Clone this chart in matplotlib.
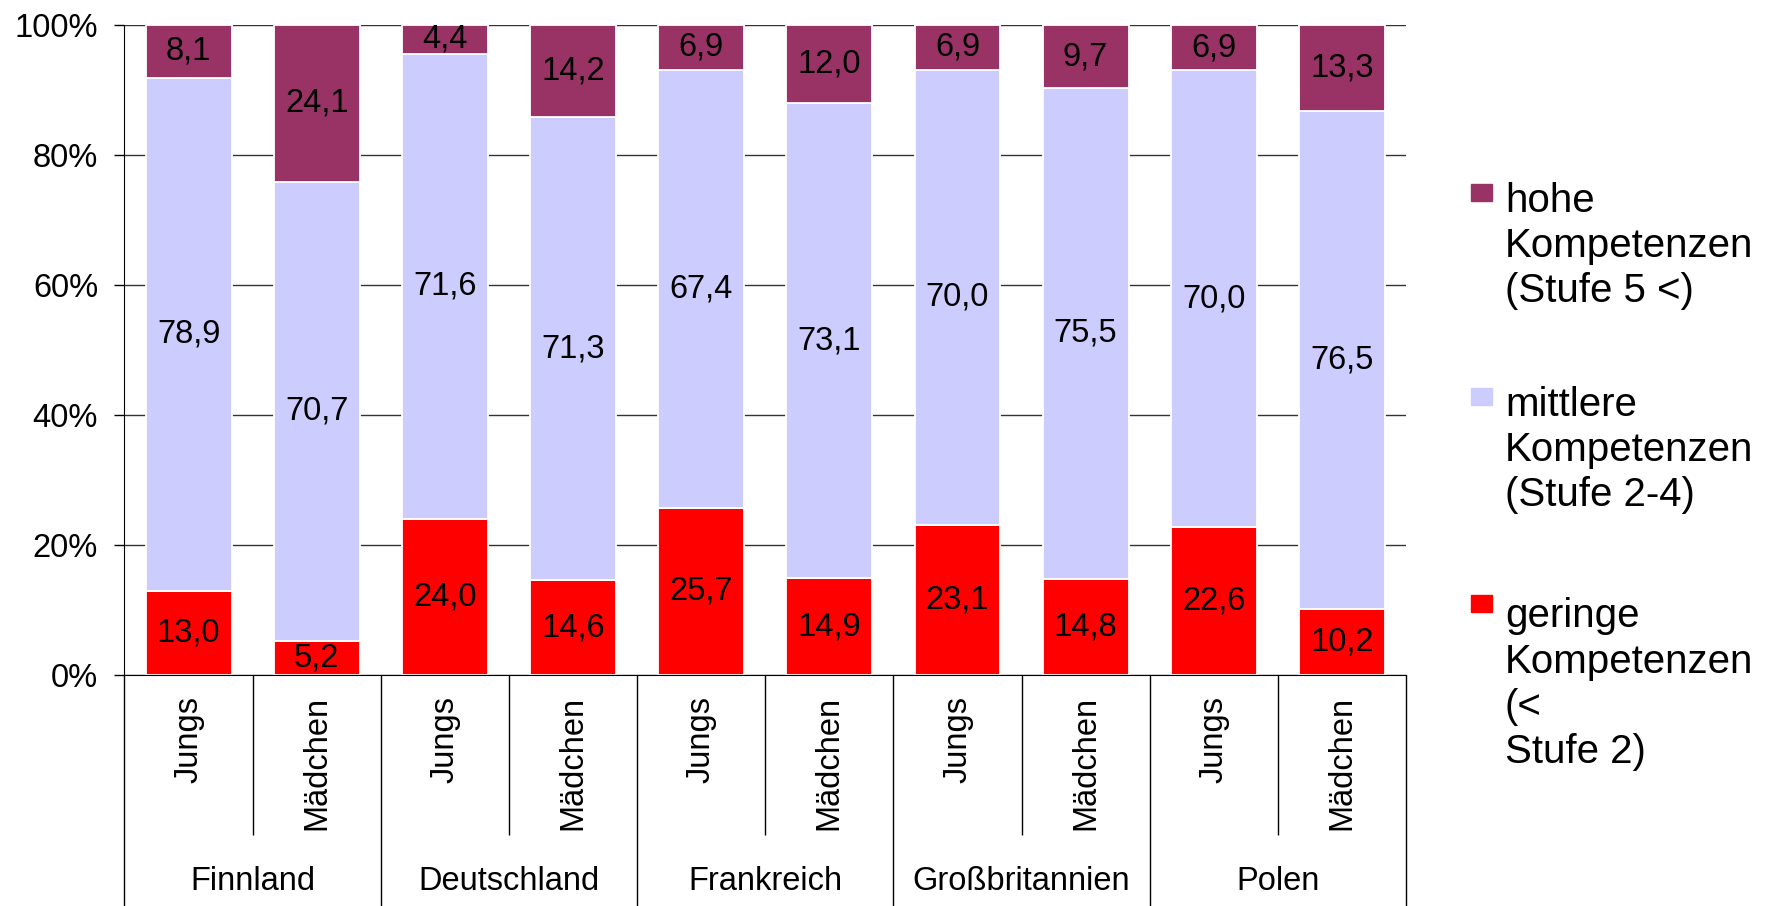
import matplotlib
matplotlib.use("Agg")
import matplotlib.pyplot as plt
import matplotlib.transforms as mtransforms
from matplotlib.patches import Rectangle
import numpy as np

plt.rcParams['font.family'] = ['Liberation Sans', 'DejaVu Sans']

countries = ["Finnland", "Deutschland", "Frankreich", "Großbritannien", "Polen"]
genders = ["Jungs", "Mädchen"]
geringe = [13.0, 5.2, 24.0, 14.6, 25.7, 14.9, 23.1, 14.8, 22.6, 10.2]
mittlere = [78.9, 70.7, 71.6, 71.3, 67.4, 73.1, 70.0, 75.5, 70.0, 76.5]
hohe = [8.1, 24.1, 4.4, 14.2, 6.9, 12.0, 6.9, 9.7, 6.9, 13.3]
series_names = ["geringe\nKompetenzen\n(<\nStufe 2)",
                "mittlere\nKompetenzen\n(Stufe 2-4)",
                "hohe\nKompetenzen\n(Stufe 5 <)"]
colors = ["#FF0000", "#CCCCFF", "#993366"]
yticks = [0, 20, 40, 60, 80, 100]
ytick_labels = ["0%", "20%", "40%", "60%", "80%", "100%"]

FS = 23.5
LFS = 29
W, H = 1774, 906
fig = plt.figure(figsize=(W / 100, H / 100), dpi=100)
ax = fig.add_axes([124.5 / W, 1 - 675 / H, (1406 - 124.5) / W, 650 / H])

raw = np.array([geringe, mittlere, hohe])
totals = raw.sum(axis=0)
pct = raw / totals * 100
n = raw.shape[1]
x = np.arange(n)
bottom = np.zeros(n)
for i in range(3):
    bars = ax.bar(x, pct[i], 0.67, bottom=bottom, color=colors[i],
                  edgecolor="white", linewidth=1.3, zorder=2)
    labels = [f"{v:.1f}".replace(".", ",") for v in raw[i]]
    ax.bar_label(bars, labels=labels, label_type="center", fontsize=FS, color="black")
    bottom += pct[i]

ax.set_xlim(-0.5, n - 0.5)
ax.set_ylim(0, 100)
ax.set_yticks(yticks)
ax.set_yticklabels(ytick_labels, fontsize=FS)
ax.tick_params(axis="y", direction="out", length=7, width=1, pad=12, color="black")
ax.yaxis.grid(True, color="#333333", linewidth=1)
ax.set_axisbelow(True)
for s in ["top", "right"]:
    ax.spines[s].set_visible(False)
ax.spines["left"].set_color("black")
ax.spines["bottom"].set_color("black")

sub_labels = [g for _ in countries for g in genders]
ax.set_xticks(x)
ax.set_xticklabels(sub_labels, rotation=90, fontsize=FS, va="top", ha="center")
ax.tick_params(axis="x", length=0, pad=15)

trans = mtransforms.blended_transform_factory(ax.transData, ax.transAxes)
ng = len(genders)
inner = [c * ng + k + 0.5 for c in range(len(countries)) for k in range(ng - 1)]
outer = [c * ng - 0.5 for c in range(len(countries) + 1)]
ax.vlines(inner, 0, -160 / 650, transform=trans, colors="black", linewidth=1, clip_on=False)
ax.vlines(outer, 0, -240 / 650, transform=trans, colors="black", linewidth=1, clip_on=False)
for c, name in enumerate(countries):
    ax.text(c * ng + (ng - 1) / 2, -(882 - 675) / 650, name, transform=trans,
            ha="center", va="center", fontsize=FS)

# legend (manual, handles aligned to first line)
LINE = 50.0
leg_entries = [(2, 202), (1, 406), (0, 613)]
for idx, base in leg_entries:
    nlines = series_names[idx].count("\n") + 1
    fig.patches.append(Rectangle((1471 / W, 1 - (base - 1) / H), 21 / W, 17 / H,
                                 transform=fig.transFigure, color=colors[idx]))
    fig.text(1505 / W, 1 - (base + (nlines - 1) * LINE) / H, series_names[idx],
             fontsize=LFS, va="baseline", ha="left",
             linespacing=LINE / (LFS * 100 / 72))

fig.savefig("out.png", dpi=100)
